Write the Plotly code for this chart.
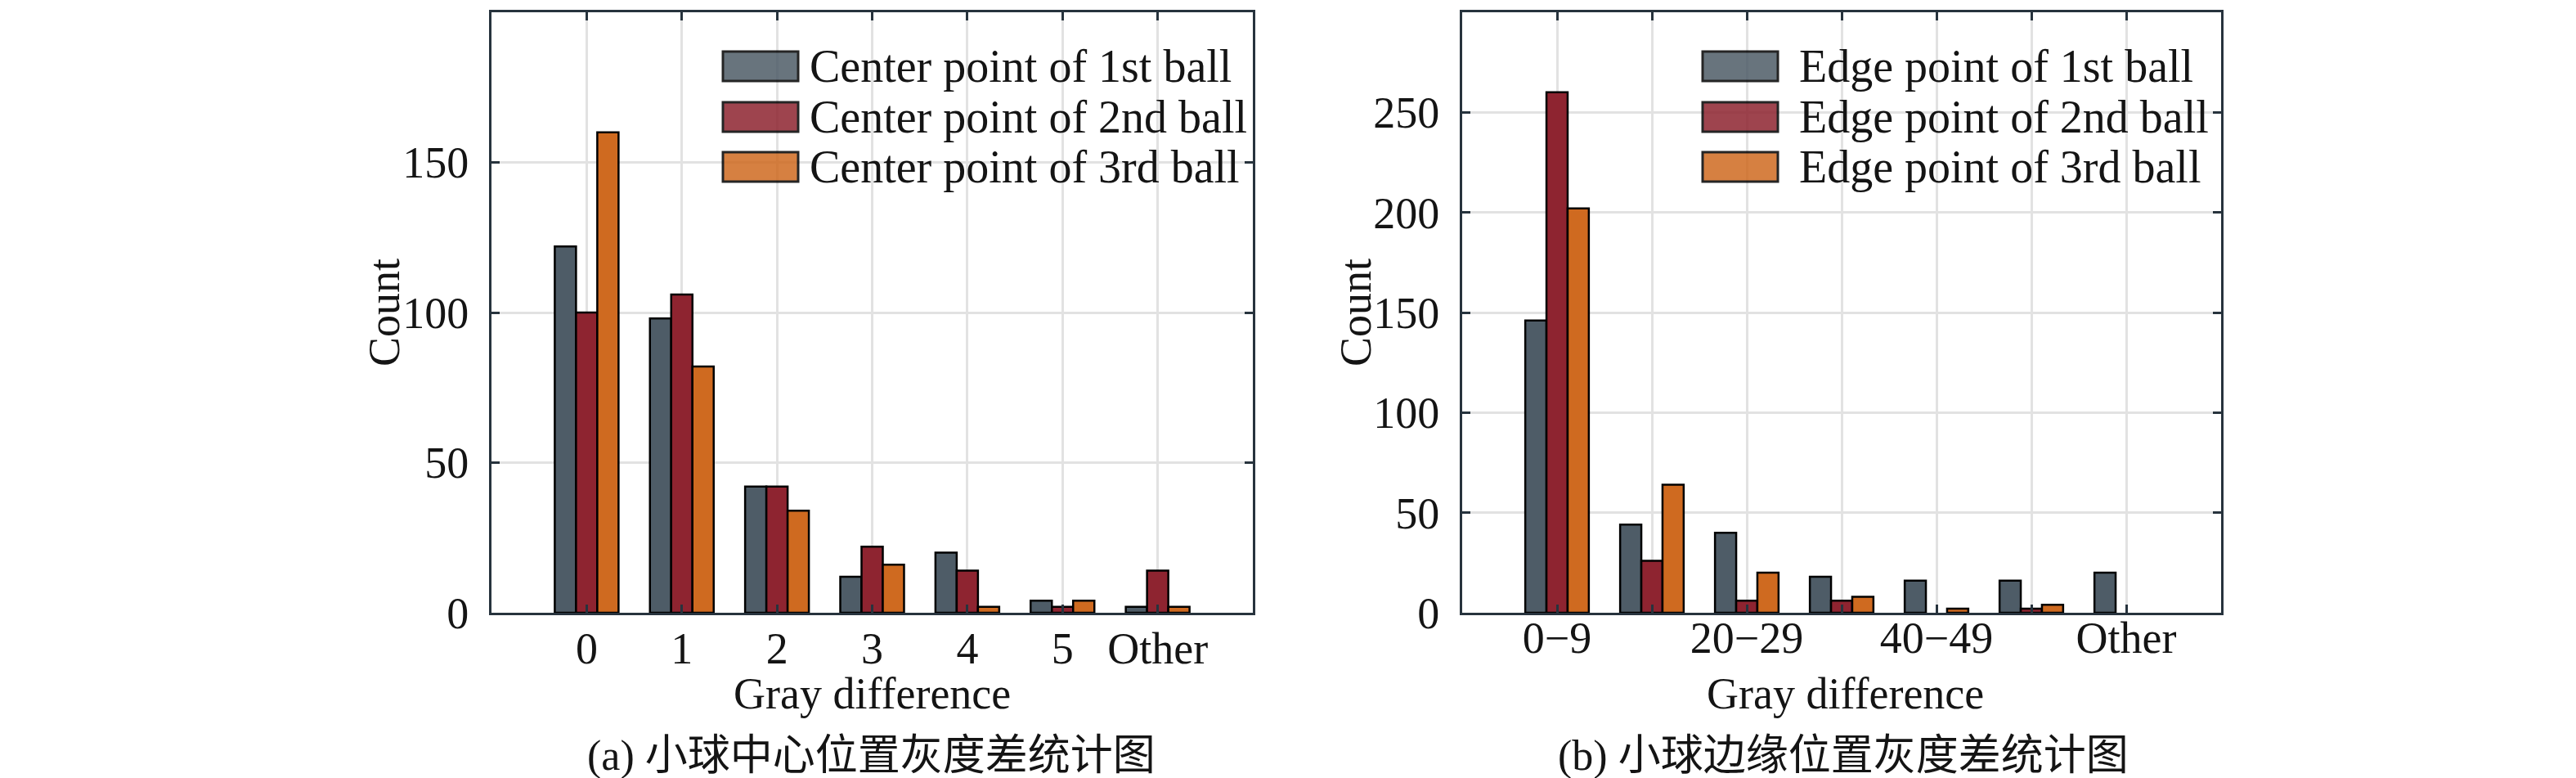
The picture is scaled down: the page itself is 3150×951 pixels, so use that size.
import plotly.graph_objects as go

# left panel: centre points
cats_a = ["0", "1", "2", "3", "4", "5", "Other"]
center_1st = [122, 98, 42, 12, 20, 4, 2]
center_2nd = [100, 106, 42, 22, 14, 2, 14]
center_3rd = [160, 82, 34, 16, 2, 4, 2]
names_a = ["Center point of 1st ball", "Center point of 2nd ball", "Center point of 3rd ball"]

# right panel: edge points
cats_b = ["0−9", "10−19", "20−29", "30−39", "40−49", "50−59", "Other"]
ticktext_b = ["0−9", "", "20−29", "", "40−49", "", "Other"]
edge_1st = [146, 44, 40, 18, 16, 16, 20]
edge_2nd = [260, 26, 6, 6, 0, 2, 0]
edge_3rd = [202, 64, 20, 8, 2, 4, 0]
names_b = ["Edge point of 1st ball", "Edge point of 2nd ball", "Edge point of 3rd ball"]

yticks_a = [0, 50, 100, 150]
yticks_b = [0, 50, 100, 150, 200, 250]

colors = ["#4e5c67", "#8e2430", "#cf6a20"]
serif = "Liberation Serif, Noto Sans CJK SC"
frame = "#27333d"
ink = "#141414"
W, H = 3150, 951


def outline(vals):
    # empty bins get no outline, as in the original
    return [2.5 if v > 0 else 0 for v in vals]


fig = go.Figure()
for vals, nm, c in zip([center_1st, center_2nd, center_3rd], names_a, colors):
    fig.add_trace(go.Bar(x=cats_a, y=vals, name=nm,
                         marker=dict(color=c, line=dict(color="black", width=outline(vals))),
                         xaxis="x", yaxis="y", showlegend=False))
for vals, nm, c in zip([edge_1st, edge_2nd, edge_3rd], names_b, colors):
    fig.add_trace(go.Bar(x=cats_b, y=vals, name=nm,
                         marker=dict(color=c, line=dict(color="black", width=outline(vals))),
                         xaxis="x2", yaxis="y2", showlegend=False))

axis_common = dict(showline=True, linecolor=frame, linewidth=3, mirror="ticks", ticks="inside",
                   ticklen=10, tickwidth=3, tickcolor=frame, showgrid=True, gridcolor="#e2e2e2",
                   gridwidth=3, zeroline=False, automargin=False,
                   tickfont=dict(family=serif, size=54, color=ink))

fig.update_layout(
    width=W, height=H,
    margin=dict(l=0, r=0, t=0, b=0),
    paper_bgcolor="white", plot_bgcolor="white",
    barmode="group", bargap=0.33, bargroupgap=0,
    font=dict(family=serif, size=54, color=ink),
    xaxis=dict(axis_common, domain=[593 / W, 1524 / W], anchor="y", type="category",
               categoryorder="array", categoryarray=cats_a, range=[-1, 7], ticklabelstandoff=-6),
    yaxis=dict(axis_common, domain=[1 - 741 / H, 1 - 7 / H], anchor="x", range=[0, 200],
               tickvals=yticks_a, ticklabelstandoff=14),
    xaxis2=dict(axis_common, domain=[1780 / W, 2708 / W], anchor="y2", type="category",
                categoryorder="array", categoryarray=cats_b, range=[-1, 7],
                tickvals=cats_b, ticktext=ticktext_b, ticklabelstandoff=-19),
    yaxis2=dict(axis_common, domain=[1 - 741 / H, 1 - 7 / H], anchor="x2", range=[0, 300],
                tickvals=yticks_b, ticklabelstandoff=14),
)

shapes = []
annotations = []


def label(text, x, y, size=54, angle=0, xanchor="center"):
    annotations.append(dict(text=text, xref="paper", yref="paper", x=x / W, y=1 - y / H,
                            xanchor=xanchor, yanchor="middle", showarrow=False, textangle=angle,
                            font=dict(family=serif, size=size, color=ink)))


# axis titles
label("Count", 462, 374, angle=-90)
label("Count", 1650, 374, angle=-90)
label("Gray difference", 1058, 840)
label("Gray difference", 2248, 840)

# legends drawn by hand so the swatches keep their wide shape
legends = [
    (names_a, 856, 1515, 876, 968, 980),
    (names_b, 2050, 2700, 2074, 2166, 2190),
]
rows_y = [73, 135, 196]
for names, bx0, bx1, sx0, sx1, tx in legends:
    shapes.append(dict(type="rect", xref="paper", yref="paper", x0=bx0 / W, x1=bx1 / W,
                       y0=1 - 240 / H, y1=1 - 22 / H, fillcolor="white", line=dict(width=0),
                       layer="between"))
    for nm, c, ry in zip(names, colors, rows_y):
        shapes.append(dict(type="rect", xref="paper", yref="paper", x0=sx0 / W, x1=sx1 / W,
                           y0=1 - (ry + 18) / H, y1=1 - (ry - 18) / H, fillcolor=c, opacity=0.85,
                           line=dict(color="black", width=3), layer="above"))
        label(nm, tx, ry, size=56, xanchor="left")

# panel captions
label("(a) 小球中心位置灰度差统计图", 1057, 916, size=52)
label("(b) 小球边缘位置灰度差统计图", 2246, 916, size=52)

fig.update_layout(shapes=shapes, annotations=annotations)

fig.write_html("out.html")
